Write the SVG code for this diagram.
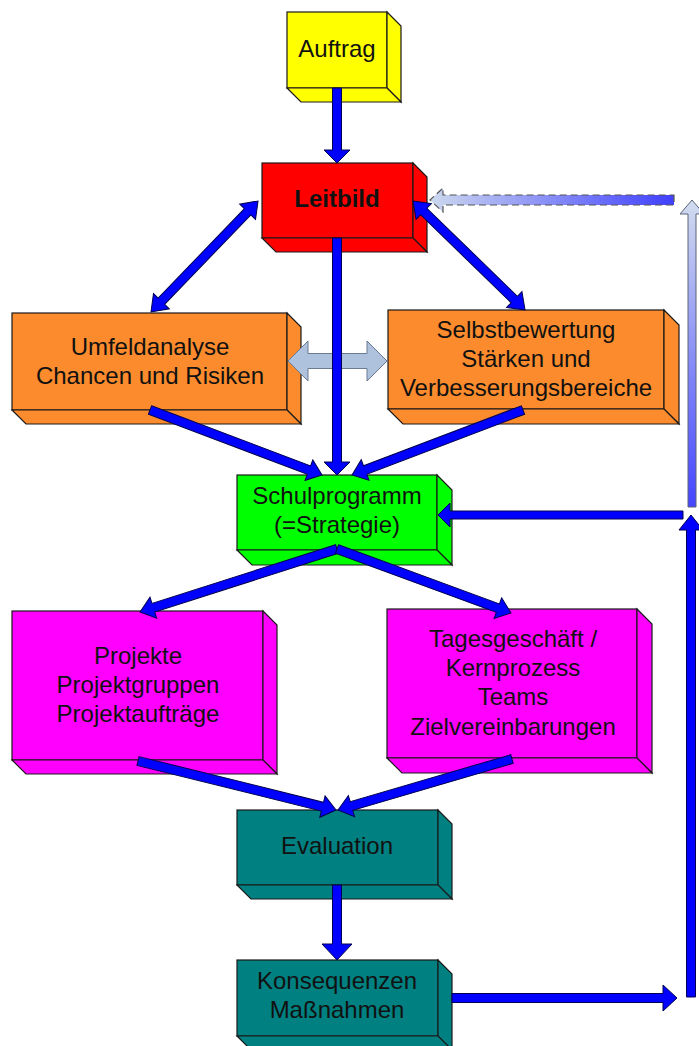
<svg xmlns="http://www.w3.org/2000/svg" width="699" height="1046" viewBox="0 0 699 1046">
<defs>
<linearGradient id="gv" x1="0" y1="0" x2="0" y2="1">
<stop offset="0" stop-color="#d2dcee"/>
<stop offset="1" stop-color="#4444ff"/>
</linearGradient>
<linearGradient id="gh" x1="0" y1="0" x2="1" y2="0">
<stop offset="0" stop-color="#ccd8ee"/>
<stop offset="1" stop-color="#4040ff"/>
</linearGradient>
</defs>
<style>
.box{stroke:#1a1a1a;stroke-width:1.2;stroke-linejoin:miter}
.t{font-family:"Liberation Sans",Arial,sans-serif;font-size:24px;fill:#111;text-anchor:middle}
.b{font-weight:bold}
.ar{fill:#0000ff;stroke:#000050;stroke-width:1;stroke-linejoin:miter}
.lb{fill:#aec2de;stroke:#6a7a90;stroke-width:1}
.gv{fill:url(#gv);stroke:#5a6478;stroke-width:1}
.gh{fill:url(#gh);stroke:#555;stroke-width:1.2;stroke-dasharray:7 4}
.yel{fill:#ffff00}.red{fill:#ff0000}.org{fill:#fb8b2d}.grn{fill:#00ff00}.mag{fill:#ff00ff}.tea{fill:#008080}
</style>

<g id="auftrag" class="box yel">
<rect x="287" y="12" width="100" height="76"/>
<polygon points="387,12 401,26 401,102 387,88"/>
<polygon points="287,88 387,88 401,102 301,102"/>
<text class="t" x="337" y="57" stroke="none">Auftrag</text>
</g>

<g id="leitbild" class="box red">
<rect x="262" y="163" width="151" height="75"/>
<polygon points="413,163 427,177 427,252 413,238"/>
<polygon points="262,238 413,238 427,252 276,252"/>
<text class="t b" x="337" y="207" stroke="none">Leitbild</text>
</g>

<g id="umfeldanalyse" class="box org">
<rect x="12" y="313" width="275" height="97"/>
<polygon points="287,313 301,327 301,424 287,410"/>
<polygon points="12,410 287,410 301,424 26,424"/>
<text class="t" x="150" y="355" stroke="none">Umfeldanalyse</text>
<text class="t" x="150" y="384" stroke="none">Chancen und Risiken</text>
</g>

<g id="selbstbewertung" class="box org">
<rect x="388" y="310" width="276" height="99"/>
<polygon points="664,310 679,325 679,424 664,409"/>
<polygon points="388,409 664,409 679,424 403,424"/>
<text class="t" x="526" y="338" stroke="none">Selbstbewertung</text>
<text class="t" x="526" y="367" stroke="none">Stärken und</text>
<text class="t" x="526" y="396" stroke="none">Verbesserungsbereiche</text>
</g>

<g id="schulprogramm" class="box grn">
<rect x="237" y="475" width="200" height="75"/>
<polygon points="437,475 452,490 452,565 437,550"/>
<polygon points="237,550 437,550 452,565 252,565"/>
<text class="t" x="337" y="504" stroke="none">Schulprogramm</text>
<text class="t" x="337" y="533" stroke="none">(=Strategie)</text>
</g>

<g id="projekte" class="box mag">
<rect x="12" y="611" width="251" height="149"/>
<polygon points="263,611 277,625 277,774 263,760"/>
<polygon points="12,760 263,760 277,774 26,774"/>
<text class="t" x="138" y="664" stroke="none">Projekte</text>
<text class="t" x="138" y="693" stroke="none">Projektgruppen</text>
<text class="t" x="138" y="722" stroke="none">Projektaufträge</text>
</g>

<g id="tagesgeschaeft" class="box mag">
<rect x="387" y="609" width="250" height="149"/>
<polygon points="637,609 652,624 652,773 637,758"/>
<polygon points="387,758 637,758 652,773 402,773"/>
<text class="t" x="513" y="647" stroke="none">Tagesgeschäft /</text>
<text class="t" x="513" y="676" stroke="none">Kernprozess</text>
<text class="t" x="513" y="705" stroke="none">Teams</text>
<text class="t" x="513" y="735" stroke="none">Zielvereinbarungen</text>
</g>

<g id="evaluation" class="box tea">
<rect x="237" y="810" width="201" height="75"/>
<polygon points="438,810 452,824 452,899 438,885"/>
<polygon points="237,885 438,885 452,899 251,899"/>
<text class="t" x="337" y="854" stroke="none">Evaluation</text>
</g>

<g id="konsequenzen" class="box tea">
<rect x="237" y="960" width="201" height="76"/>
<polygon points="438,960 452,974 452,1050 438,1036"/>
<polygon points="237,1036 438,1036 452,1050 251,1050"/>
<text class="t" x="337" y="989" stroke="none">Konsequenzen</text>
<text class="t" x="337" y="1018" stroke="none">Maßnahmen</text>
</g>

<g id="connectors">
<!-- light double arrow between analyses -->
<path class="lb" d="M288,361 L308,341 V353.5 H367 V341 L387,361 L367,381 V368.5 H308 V381 Z"/>
<!-- dashed feedback to Leitbild -->
<path class="gh" d="M674,195 V205 H443 V212 L430,200 L443,188 V195 Z"/>
<!-- light vertical feedback -->
<path class="gv" d="M688,507 H696 V214 H704 L692,200 L680,214 H688 Z"/>
<!-- Auftrag -> Leitbild -->
<path class="ar" d="M332.5,88 H341.5 V150 H350 L337,163 L324,150 H332.5 Z"/>
<!-- Leitbild <-> Umfeld -->
<path class="ar" transform="translate(151,312) rotate(-46.05)" d="M0,0 L15,-11 V-4.5 H139.2 V-11 L154.2,0 L139.2,11 V4.5 H15 V11 Z"/>
<!-- Leitbild <-> Selbst -->
<path class="ar" transform="translate(413,201) rotate(44.22)" d="M0,0 L15,-11 V-4.5 H141.3 V-11 L156.3,0 L141.3,11 V4.5 H15 V11 Z"/>
<!-- Leitbild -> Schulprogramm -->
<path class="ar" d="M332.5,238 H341.5 V462 H350 L337,475 L324,462 H332.5 Z"/>
<!-- Umfeld -> Schul -->
<path class="ar" transform="translate(150,410) rotate(20.70)" d="M0,-4.5 H169.9 V-11 L183.9,0 L169.9,11 V4.5 H0 Z"/>
<!-- Selbst -> Schul -->
<path class="ar" transform="translate(523,410) rotate(159.19)" d="M0,-4.5 H168.9 V-11 L182.9,0 L168.9,11 V4.5 H0 Z"/>
<!-- Schul -> Projekte -->
<path class="ar" transform="translate(337,549) rotate(162.27)" d="M0,-4.5 H192.8 V-11 L206.8,0 L192.8,11 V4.5 H0 Z"/>
<!-- Schul -> Tages -->
<path class="ar" transform="translate(337,549) rotate(20.19)" d="M0,-4.5 H171.4 V-11 L185.4,0 L171.4,11 V4.5 H0 Z"/>
<!-- Projekte -> Evaluation -->
<path class="ar" transform="translate(138,761) rotate(13.90)" d="M0,-4.5 H190 V-11 L204,0 L190,11 V4.5 H0 Z"/>
<!-- Tages -> Evaluation -->
<path class="ar" transform="translate(512,759) rotate(163.66)" d="M0,-4.5 H167.3 V-11 L181.3,0 L167.3,11 V4.5 H0 Z"/>
<!-- Evaluation -> Konsequenzen -->
<path class="ar" d="M332.5,885 H341.5 V944 H352 L337,960 L322,944 H332.5 Z"/>
<!-- Konsequenzen -> right -->
<path class="ar" d="M452,993.5 V1002.5 H663 V1011 L677,998 L663,985 V993.5 Z"/>
<!-- right vertical up -->
<path class="ar" d="M686.5,997 V530 H679 L691,515 L703,530 H695.5 V997 Z"/>
<!-- into Schulprogramm -->
<path class="ar" d="M683,511 V519 H450 V527 L438,515 L450,503 V511 Z"/>
</g>
</svg>
